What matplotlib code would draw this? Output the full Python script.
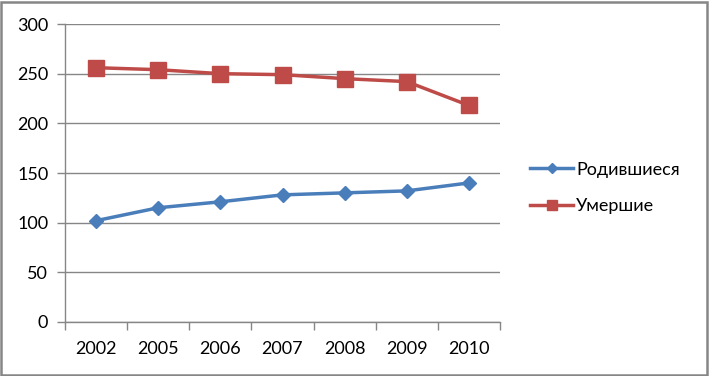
import matplotlib.pyplot as plt
from matplotlib.patches import Rectangle

years = ['2002', '2005', '2006', '2007', '2008', '2009', '2010']
born = [102, 115, 121, 128, 130, 132, 140]
died = [256, 254, 250, 249, 245, 242, 218]
label_born = 'Родившиеся'
label_died = 'Умершие'

plt.rcParams['font.family'] = ['Lato', 'DejaVu Sans']
plt.rcParams['font.size'] = 13

fig = plt.figure(figsize=(7.09, 3.76), dpi=100)
ax = fig.add_axes([65 / 709, 1 - 322 / 376, 435 / 709, 298 / 376])

x = list(range(len(years)))
ax.plot(x, born, color='#4A7EBB', linewidth=2.5, marker='D', markersize=7.5,
        label=label_born, zorder=3)
ax.plot(x, died, color='#BE4B48', linewidth=2.5, marker='s', markersize=11,
        label=label_died, zorder=3)

ax.set_xlim(-0.5, len(years) - 0.5)
ax.set_ylim(0, 300)
ax.set_yticks(range(0, 301, 50))
ax.set_xticks(x)
ax.set_xticklabels(years)
ax.set_xticks([i - 0.5 for i in range(len(years) + 1)], minor=True)
ax.grid(axis='y', color='#868686', linewidth=1)
ax.set_axisbelow(True)
for s in ['top', 'right']:
    ax.spines[s].set_visible(False)
for s in ['left', 'bottom']:
    ax.spines[s].set_color('#868686')
    ax.spines[s].set_linewidth(1)
ax.tick_params(axis='y', length=6, color='#868686', width=1, pad=6)
ax.tick_params(axis='x', which='major', length=0, pad=14)
ax.tick_params(axis='x', which='minor', length=6, color='#868686', width=1)

ax.legend(loc='center left', bbox_to_anchor=(530 / 709, 1 - 188 / 376),
          bbox_transform=fig.transFigure, frameon=False, handlelength=2.4,
          handletextpad=0.15, labelspacing=1.15, borderaxespad=0, borderpad=0,
          fontsize=13, markerscale=0.67)

fig.patches.append(Rectangle((0.002, 0.003), 0.995, 0.993, transform=fig.transFigure,
                             fill=False, edgecolor='#868686', linewidth=1.8))

fig.savefig('out.png', dpi=100)
